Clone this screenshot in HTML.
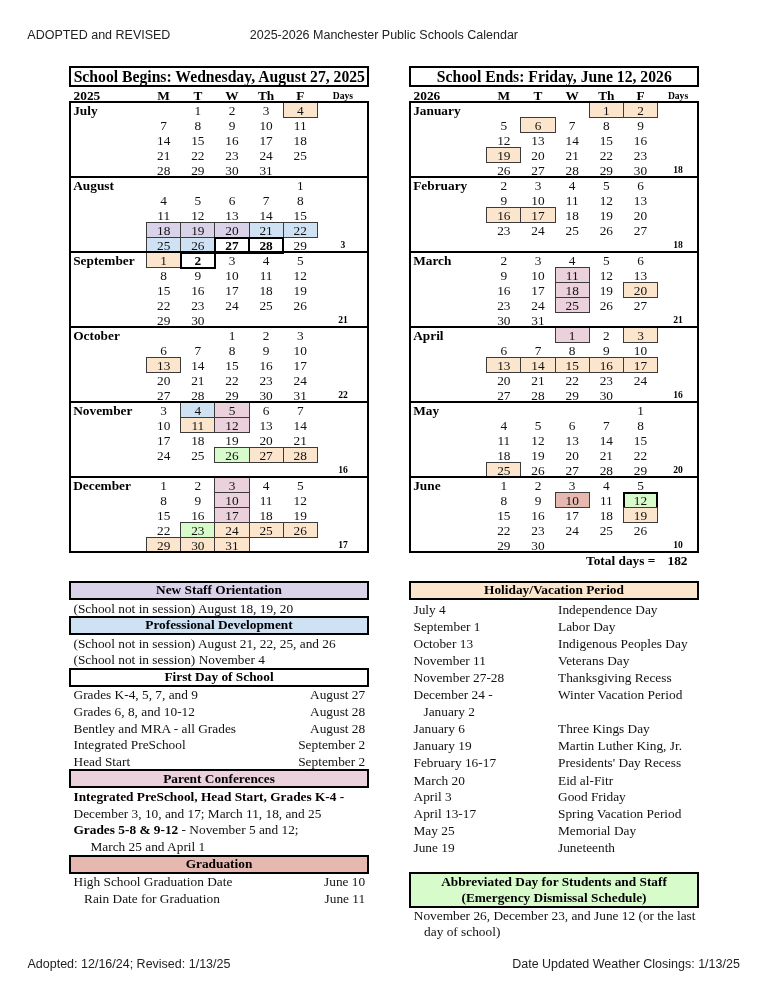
<!DOCTYPE html>
<html><head><meta charset="utf-8"><title>2025-2026 Manchester Public Schools Calendar</title>
<style>
html,body{margin:0;padding:0;background:#fff;}
body{width:768px;height:994px;position:relative;overflow:hidden;filter:blur(0.35px);}
.t{position:absolute;white-space:nowrap;line-height:0;height:0;font-family:'Liberation Serif','Times New Roman',serif;}
.s{font-family:'Liberation Sans',Arial,sans-serif;}
.r{position:absolute;box-sizing:border-box;}
</style></head><body>
<div class="t s" style="left:27.30px;top:35.17px;font-size:12.5px;color:#222;">ADOPTED and REVISED</div>
<div class="t s" style="left:249.80px;top:35.17px;font-size:12.5px;color:#222;">2025-2026 Manchester Public Schools Calendar</div>
<div class="t s" style="left:27.50px;top:963.77px;font-size:12.5px;color:#222;">Adopted: 12/16/24; Revised: 1/13/25</div>
<div class="t s" style="left:512.20px;top:963.77px;font-size:12.5px;color:#222;">Date Updated Weather Closings: 1/13/25</div>
<div class="r" style="left:69.00px;top:66.00px;width:300.00px;height:21.00px;outline:2px solid #000;outline-offset:-2px;"></div>
<div class="t" style="left:69.30px;width:300px;text-align:center;top:76.80px;font-size:15.7px;font-weight:700;color:#000;">School Begins: Wednesday, August 27, 2025</div>
<div class="t" style="left:73.60px;top:96.00px;font-size:13.33px;font-weight:700;color:#000;">2025</div>
<div class="t" style="left:146.60px;width:34.15px;text-align:center;top:96.00px;font-size:13.33px;font-weight:700;color:#000;">M</div>
<div class="t" style="left:180.75px;width:34.15px;text-align:center;top:96.00px;font-size:13.33px;font-weight:700;color:#000;">T</div>
<div class="t" style="left:214.90px;width:34.15px;text-align:center;top:96.00px;font-size:13.33px;font-weight:700;color:#000;">W</div>
<div class="t" style="left:249.05px;width:34.15px;text-align:center;top:96.00px;font-size:13.33px;font-weight:700;color:#000;">Th</div>
<div class="t" style="left:283.20px;width:34.15px;text-align:center;top:96.00px;font-size:13.33px;font-weight:700;color:#000;">F</div>
<div class="t" style="left:322.93px;width:40px;text-align:center;top:95.56px;font-size:9.6px;font-weight:700;color:#000;">Days</div>
<div class="t" style="left:73.20px;top:110.90px;font-size:13.33px;font-weight:700;color:#000;">July</div>
<div class="t" style="left:180.75px;width:34.15px;text-align:center;top:111.30px;font-size:13.33px;color:#111;">1</div>
<div class="t" style="left:214.90px;width:34.15px;text-align:center;top:111.30px;font-size:13.33px;color:#111;">2</div>
<div class="t" style="left:249.05px;width:34.15px;text-align:center;top:111.30px;font-size:13.33px;color:#111;">3</div>
<div class="r" style="left:282.70px;top:102.00px;width:35.15px;height:16.00px;background:#FCE5CD;outline:1px solid #3a3a3a;outline-offset:-1px;"></div>
<div class="t" style="left:283.20px;width:34.15px;text-align:center;top:111.30px;font-size:13.33px;color:#111;">4</div>
<div class="t" style="left:146.60px;width:34.15px;text-align:center;top:126.30px;font-size:13.33px;color:#111;">7</div>
<div class="t" style="left:180.75px;width:34.15px;text-align:center;top:126.30px;font-size:13.33px;color:#111;">8</div>
<div class="t" style="left:214.90px;width:34.15px;text-align:center;top:126.30px;font-size:13.33px;color:#111;">9</div>
<div class="t" style="left:249.05px;width:34.15px;text-align:center;top:126.30px;font-size:13.33px;color:#111;">10</div>
<div class="t" style="left:283.20px;width:34.15px;text-align:center;top:126.30px;font-size:13.33px;color:#111;">11</div>
<div class="t" style="left:146.60px;width:34.15px;text-align:center;top:141.30px;font-size:13.33px;color:#111;">14</div>
<div class="t" style="left:180.75px;width:34.15px;text-align:center;top:141.30px;font-size:13.33px;color:#111;">15</div>
<div class="t" style="left:214.90px;width:34.15px;text-align:center;top:141.30px;font-size:13.33px;color:#111;">16</div>
<div class="t" style="left:249.05px;width:34.15px;text-align:center;top:141.30px;font-size:13.33px;color:#111;">17</div>
<div class="t" style="left:283.20px;width:34.15px;text-align:center;top:141.30px;font-size:13.33px;color:#111;">18</div>
<div class="t" style="left:146.60px;width:34.15px;text-align:center;top:156.30px;font-size:13.33px;color:#111;">21</div>
<div class="t" style="left:180.75px;width:34.15px;text-align:center;top:156.30px;font-size:13.33px;color:#111;">22</div>
<div class="t" style="left:214.90px;width:34.15px;text-align:center;top:156.30px;font-size:13.33px;color:#111;">23</div>
<div class="t" style="left:249.05px;width:34.15px;text-align:center;top:156.30px;font-size:13.33px;color:#111;">24</div>
<div class="t" style="left:283.20px;width:34.15px;text-align:center;top:156.30px;font-size:13.33px;color:#111;">25</div>
<div class="t" style="left:146.60px;width:34.15px;text-align:center;top:171.30px;font-size:13.33px;color:#111;">28</div>
<div class="t" style="left:180.75px;width:34.15px;text-align:center;top:171.30px;font-size:13.33px;color:#111;">29</div>
<div class="t" style="left:214.90px;width:34.15px;text-align:center;top:171.30px;font-size:13.33px;color:#111;">30</div>
<div class="t" style="left:249.05px;width:34.15px;text-align:center;top:171.30px;font-size:13.33px;color:#111;">31</div>
<div class="t" style="left:73.20px;top:185.90px;font-size:13.33px;font-weight:700;color:#000;">August</div>
<div class="t" style="left:283.20px;width:34.15px;text-align:center;top:186.30px;font-size:13.33px;color:#111;">1</div>
<div class="t" style="left:146.60px;width:34.15px;text-align:center;top:201.30px;font-size:13.33px;color:#111;">4</div>
<div class="t" style="left:180.75px;width:34.15px;text-align:center;top:201.30px;font-size:13.33px;color:#111;">5</div>
<div class="t" style="left:214.90px;width:34.15px;text-align:center;top:201.30px;font-size:13.33px;color:#111;">6</div>
<div class="t" style="left:249.05px;width:34.15px;text-align:center;top:201.30px;font-size:13.33px;color:#111;">7</div>
<div class="t" style="left:283.20px;width:34.15px;text-align:center;top:201.30px;font-size:13.33px;color:#111;">8</div>
<div class="t" style="left:146.60px;width:34.15px;text-align:center;top:216.30px;font-size:13.33px;color:#111;">11</div>
<div class="t" style="left:180.75px;width:34.15px;text-align:center;top:216.30px;font-size:13.33px;color:#111;">12</div>
<div class="t" style="left:214.90px;width:34.15px;text-align:center;top:216.30px;font-size:13.33px;color:#111;">13</div>
<div class="t" style="left:249.05px;width:34.15px;text-align:center;top:216.30px;font-size:13.33px;color:#111;">14</div>
<div class="t" style="left:283.20px;width:34.15px;text-align:center;top:216.30px;font-size:13.33px;color:#111;">15</div>
<div class="r" style="left:146.10px;top:222.00px;width:35.15px;height:16.00px;background:#D9D2E9;outline:1px solid #3a3a3a;outline-offset:-1px;"></div>
<div class="t" style="left:146.60px;width:34.15px;text-align:center;top:231.30px;font-size:13.33px;color:#111;">18</div>
<div class="r" style="left:180.25px;top:222.00px;width:35.15px;height:16.00px;background:#D9D2E9;outline:1px solid #3a3a3a;outline-offset:-1px;"></div>
<div class="t" style="left:180.75px;width:34.15px;text-align:center;top:231.30px;font-size:13.33px;color:#111;">19</div>
<div class="r" style="left:214.40px;top:222.00px;width:35.15px;height:16.00px;background:#D9D2E9;outline:1px solid #3a3a3a;outline-offset:-1px;"></div>
<div class="t" style="left:214.90px;width:34.15px;text-align:center;top:231.30px;font-size:13.33px;color:#111;">20</div>
<div class="r" style="left:248.55px;top:222.00px;width:35.15px;height:16.00px;background:#CFE2F3;outline:1px solid #3a3a3a;outline-offset:-1px;"></div>
<div class="t" style="left:249.05px;width:34.15px;text-align:center;top:231.30px;font-size:13.33px;color:#111;">21</div>
<div class="r" style="left:282.70px;top:222.00px;width:35.15px;height:16.00px;background:#CFE2F3;outline:1px solid #3a3a3a;outline-offset:-1px;"></div>
<div class="t" style="left:283.20px;width:34.15px;text-align:center;top:231.30px;font-size:13.33px;color:#111;">22</div>
<div class="r" style="left:146.10px;top:237.00px;width:35.15px;height:16.00px;background:#CFE2F3;outline:1px solid #3a3a3a;outline-offset:-1px;"></div>
<div class="t" style="left:146.60px;width:34.15px;text-align:center;top:246.30px;font-size:13.33px;color:#111;">25</div>
<div class="r" style="left:180.25px;top:237.00px;width:35.15px;height:16.00px;background:#CFE2F3;outline:1px solid #3a3a3a;outline-offset:-1px;"></div>
<div class="t" style="left:180.75px;width:34.15px;text-align:center;top:246.30px;font-size:13.33px;color:#111;">26</div>
<div class="r" style="left:214.00px;top:236.50px;width:35.95px;height:17.00px;outline:2px solid #000;outline-offset:-2px;"></div>
<div class="t" style="left:214.90px;width:34.15px;text-align:center;top:246.30px;font-size:13.33px;font-weight:700;color:#000;">27</div>
<div class="r" style="left:248.15px;top:236.50px;width:35.95px;height:17.00px;outline:2px solid #000;outline-offset:-2px;"></div>
<div class="t" style="left:249.05px;width:34.15px;text-align:center;top:246.30px;font-size:13.33px;font-weight:700;color:#000;">28</div>
<div class="t" style="left:283.20px;width:34.15px;text-align:center;top:246.30px;font-size:13.33px;color:#111;">29</div>
<div class="t" style="left:322.93px;width:40px;text-align:center;top:245.26px;font-size:9.6px;font-weight:700;color:#000;">3</div>
<div class="t" style="left:73.20px;top:260.90px;font-size:13.33px;font-weight:700;color:#000;">September</div>
<div class="r" style="left:146.10px;top:252.00px;width:35.15px;height:16.00px;background:#FCE5CD;outline:1px solid #3a3a3a;outline-offset:-1px;"></div>
<div class="t" style="left:146.60px;width:34.15px;text-align:center;top:261.30px;font-size:13.33px;color:#111;">1</div>
<div class="r" style="left:179.85px;top:251.50px;width:35.95px;height:17.00px;outline:2px solid #000;outline-offset:-2px;"></div>
<div class="t" style="left:180.75px;width:34.15px;text-align:center;top:261.30px;font-size:13.33px;font-weight:700;color:#000;">2</div>
<div class="t" style="left:214.90px;width:34.15px;text-align:center;top:261.30px;font-size:13.33px;color:#111;">3</div>
<div class="t" style="left:249.05px;width:34.15px;text-align:center;top:261.30px;font-size:13.33px;color:#111;">4</div>
<div class="t" style="left:283.20px;width:34.15px;text-align:center;top:261.30px;font-size:13.33px;color:#111;">5</div>
<div class="t" style="left:146.60px;width:34.15px;text-align:center;top:276.30px;font-size:13.33px;color:#111;">8</div>
<div class="t" style="left:180.75px;width:34.15px;text-align:center;top:276.30px;font-size:13.33px;color:#111;">9</div>
<div class="t" style="left:214.90px;width:34.15px;text-align:center;top:276.30px;font-size:13.33px;color:#111;">10</div>
<div class="t" style="left:249.05px;width:34.15px;text-align:center;top:276.30px;font-size:13.33px;color:#111;">11</div>
<div class="t" style="left:283.20px;width:34.15px;text-align:center;top:276.30px;font-size:13.33px;color:#111;">12</div>
<div class="t" style="left:146.60px;width:34.15px;text-align:center;top:291.30px;font-size:13.33px;color:#111;">15</div>
<div class="t" style="left:180.75px;width:34.15px;text-align:center;top:291.30px;font-size:13.33px;color:#111;">16</div>
<div class="t" style="left:214.90px;width:34.15px;text-align:center;top:291.30px;font-size:13.33px;color:#111;">17</div>
<div class="t" style="left:249.05px;width:34.15px;text-align:center;top:291.30px;font-size:13.33px;color:#111;">18</div>
<div class="t" style="left:283.20px;width:34.15px;text-align:center;top:291.30px;font-size:13.33px;color:#111;">19</div>
<div class="t" style="left:146.60px;width:34.15px;text-align:center;top:306.30px;font-size:13.33px;color:#111;">22</div>
<div class="t" style="left:180.75px;width:34.15px;text-align:center;top:306.30px;font-size:13.33px;color:#111;">23</div>
<div class="t" style="left:214.90px;width:34.15px;text-align:center;top:306.30px;font-size:13.33px;color:#111;">24</div>
<div class="t" style="left:249.05px;width:34.15px;text-align:center;top:306.30px;font-size:13.33px;color:#111;">25</div>
<div class="t" style="left:283.20px;width:34.15px;text-align:center;top:306.30px;font-size:13.33px;color:#111;">26</div>
<div class="t" style="left:146.60px;width:34.15px;text-align:center;top:321.30px;font-size:13.33px;color:#111;">29</div>
<div class="t" style="left:180.75px;width:34.15px;text-align:center;top:321.30px;font-size:13.33px;color:#111;">30</div>
<div class="t" style="left:322.93px;width:40px;text-align:center;top:320.26px;font-size:9.6px;font-weight:700;color:#000;">21</div>
<div class="t" style="left:73.20px;top:335.90px;font-size:13.33px;font-weight:700;color:#000;">October</div>
<div class="t" style="left:214.90px;width:34.15px;text-align:center;top:336.30px;font-size:13.33px;color:#111;">1</div>
<div class="t" style="left:249.05px;width:34.15px;text-align:center;top:336.30px;font-size:13.33px;color:#111;">2</div>
<div class="t" style="left:283.20px;width:34.15px;text-align:center;top:336.30px;font-size:13.33px;color:#111;">3</div>
<div class="t" style="left:146.60px;width:34.15px;text-align:center;top:351.30px;font-size:13.33px;color:#111;">6</div>
<div class="t" style="left:180.75px;width:34.15px;text-align:center;top:351.30px;font-size:13.33px;color:#111;">7</div>
<div class="t" style="left:214.90px;width:34.15px;text-align:center;top:351.30px;font-size:13.33px;color:#111;">8</div>
<div class="t" style="left:249.05px;width:34.15px;text-align:center;top:351.30px;font-size:13.33px;color:#111;">9</div>
<div class="t" style="left:283.20px;width:34.15px;text-align:center;top:351.30px;font-size:13.33px;color:#111;">10</div>
<div class="r" style="left:146.10px;top:357.00px;width:35.15px;height:16.00px;background:#FCE5CD;outline:1px solid #3a3a3a;outline-offset:-1px;"></div>
<div class="t" style="left:146.60px;width:34.15px;text-align:center;top:366.30px;font-size:13.33px;color:#111;">13</div>
<div class="t" style="left:180.75px;width:34.15px;text-align:center;top:366.30px;font-size:13.33px;color:#111;">14</div>
<div class="t" style="left:214.90px;width:34.15px;text-align:center;top:366.30px;font-size:13.33px;color:#111;">15</div>
<div class="t" style="left:249.05px;width:34.15px;text-align:center;top:366.30px;font-size:13.33px;color:#111;">16</div>
<div class="t" style="left:283.20px;width:34.15px;text-align:center;top:366.30px;font-size:13.33px;color:#111;">17</div>
<div class="t" style="left:146.60px;width:34.15px;text-align:center;top:381.30px;font-size:13.33px;color:#111;">20</div>
<div class="t" style="left:180.75px;width:34.15px;text-align:center;top:381.30px;font-size:13.33px;color:#111;">21</div>
<div class="t" style="left:214.90px;width:34.15px;text-align:center;top:381.30px;font-size:13.33px;color:#111;">22</div>
<div class="t" style="left:249.05px;width:34.15px;text-align:center;top:381.30px;font-size:13.33px;color:#111;">23</div>
<div class="t" style="left:283.20px;width:34.15px;text-align:center;top:381.30px;font-size:13.33px;color:#111;">24</div>
<div class="t" style="left:146.60px;width:34.15px;text-align:center;top:396.30px;font-size:13.33px;color:#111;">27</div>
<div class="t" style="left:180.75px;width:34.15px;text-align:center;top:396.30px;font-size:13.33px;color:#111;">28</div>
<div class="t" style="left:214.90px;width:34.15px;text-align:center;top:396.30px;font-size:13.33px;color:#111;">29</div>
<div class="t" style="left:249.05px;width:34.15px;text-align:center;top:396.30px;font-size:13.33px;color:#111;">30</div>
<div class="t" style="left:283.20px;width:34.15px;text-align:center;top:396.30px;font-size:13.33px;color:#111;">31</div>
<div class="t" style="left:322.93px;width:40px;text-align:center;top:395.26px;font-size:9.6px;font-weight:700;color:#000;">22</div>
<div class="t" style="left:73.20px;top:410.90px;font-size:13.33px;font-weight:700;color:#000;">November</div>
<div class="t" style="left:146.60px;width:34.15px;text-align:center;top:411.30px;font-size:13.33px;color:#111;">3</div>
<div class="r" style="left:180.25px;top:402.00px;width:35.15px;height:16.00px;background:#CFE2F3;outline:1px solid #3a3a3a;outline-offset:-1px;"></div>
<div class="t" style="left:180.75px;width:34.15px;text-align:center;top:411.30px;font-size:13.33px;color:#111;">4</div>
<div class="r" style="left:214.40px;top:402.00px;width:35.15px;height:16.00px;background:#EAD1DC;outline:1px solid #3a3a3a;outline-offset:-1px;"></div>
<div class="t" style="left:214.90px;width:34.15px;text-align:center;top:411.30px;font-size:13.33px;color:#111;">5</div>
<div class="t" style="left:249.05px;width:34.15px;text-align:center;top:411.30px;font-size:13.33px;color:#111;">6</div>
<div class="t" style="left:283.20px;width:34.15px;text-align:center;top:411.30px;font-size:13.33px;color:#111;">7</div>
<div class="t" style="left:146.60px;width:34.15px;text-align:center;top:426.30px;font-size:13.33px;color:#111;">10</div>
<div class="r" style="left:180.25px;top:417.00px;width:35.15px;height:16.00px;background:#FCE5CD;outline:1px solid #3a3a3a;outline-offset:-1px;"></div>
<div class="t" style="left:180.75px;width:34.15px;text-align:center;top:426.30px;font-size:13.33px;color:#111;">11</div>
<div class="r" style="left:214.40px;top:417.00px;width:35.15px;height:16.00px;background:#EAD1DC;outline:1px solid #3a3a3a;outline-offset:-1px;"></div>
<div class="t" style="left:214.90px;width:34.15px;text-align:center;top:426.30px;font-size:13.33px;color:#111;">12</div>
<div class="t" style="left:249.05px;width:34.15px;text-align:center;top:426.30px;font-size:13.33px;color:#111;">13</div>
<div class="t" style="left:283.20px;width:34.15px;text-align:center;top:426.30px;font-size:13.33px;color:#111;">14</div>
<div class="t" style="left:146.60px;width:34.15px;text-align:center;top:441.30px;font-size:13.33px;color:#111;">17</div>
<div class="t" style="left:180.75px;width:34.15px;text-align:center;top:441.30px;font-size:13.33px;color:#111;">18</div>
<div class="t" style="left:214.90px;width:34.15px;text-align:center;top:441.30px;font-size:13.33px;color:#111;">19</div>
<div class="t" style="left:249.05px;width:34.15px;text-align:center;top:441.30px;font-size:13.33px;color:#111;">20</div>
<div class="t" style="left:283.20px;width:34.15px;text-align:center;top:441.30px;font-size:13.33px;color:#111;">21</div>
<div class="t" style="left:146.60px;width:34.15px;text-align:center;top:456.30px;font-size:13.33px;color:#111;">24</div>
<div class="t" style="left:180.75px;width:34.15px;text-align:center;top:456.30px;font-size:13.33px;color:#111;">25</div>
<div class="r" style="left:214.40px;top:447.00px;width:35.15px;height:16.00px;background:#D8FBCC;outline:1px solid #3a3a3a;outline-offset:-1px;"></div>
<div class="t" style="left:214.90px;width:34.15px;text-align:center;top:456.30px;font-size:13.33px;color:#111;">26</div>
<div class="r" style="left:248.55px;top:447.00px;width:35.15px;height:16.00px;background:#FCE5CD;outline:1px solid #3a3a3a;outline-offset:-1px;"></div>
<div class="t" style="left:249.05px;width:34.15px;text-align:center;top:456.30px;font-size:13.33px;color:#111;">27</div>
<div class="r" style="left:282.70px;top:447.00px;width:35.15px;height:16.00px;background:#FCE5CD;outline:1px solid #3a3a3a;outline-offset:-1px;"></div>
<div class="t" style="left:283.20px;width:34.15px;text-align:center;top:456.30px;font-size:13.33px;color:#111;">28</div>
<div class="t" style="left:322.93px;width:40px;text-align:center;top:470.26px;font-size:9.6px;font-weight:700;color:#000;">16</div>
<div class="t" style="left:73.20px;top:485.90px;font-size:13.33px;font-weight:700;color:#000;">December</div>
<div class="t" style="left:146.60px;width:34.15px;text-align:center;top:486.30px;font-size:13.33px;color:#111;">1</div>
<div class="t" style="left:180.75px;width:34.15px;text-align:center;top:486.30px;font-size:13.33px;color:#111;">2</div>
<div class="r" style="left:214.40px;top:477.00px;width:35.15px;height:16.00px;background:#EAD1DC;outline:1px solid #3a3a3a;outline-offset:-1px;"></div>
<div class="t" style="left:214.90px;width:34.15px;text-align:center;top:486.30px;font-size:13.33px;color:#111;">3</div>
<div class="t" style="left:249.05px;width:34.15px;text-align:center;top:486.30px;font-size:13.33px;color:#111;">4</div>
<div class="t" style="left:283.20px;width:34.15px;text-align:center;top:486.30px;font-size:13.33px;color:#111;">5</div>
<div class="t" style="left:146.60px;width:34.15px;text-align:center;top:501.30px;font-size:13.33px;color:#111;">8</div>
<div class="t" style="left:180.75px;width:34.15px;text-align:center;top:501.30px;font-size:13.33px;color:#111;">9</div>
<div class="r" style="left:214.40px;top:492.00px;width:35.15px;height:16.00px;background:#EAD1DC;outline:1px solid #3a3a3a;outline-offset:-1px;"></div>
<div class="t" style="left:214.90px;width:34.15px;text-align:center;top:501.30px;font-size:13.33px;color:#111;">10</div>
<div class="t" style="left:249.05px;width:34.15px;text-align:center;top:501.30px;font-size:13.33px;color:#111;">11</div>
<div class="t" style="left:283.20px;width:34.15px;text-align:center;top:501.30px;font-size:13.33px;color:#111;">12</div>
<div class="t" style="left:146.60px;width:34.15px;text-align:center;top:516.30px;font-size:13.33px;color:#111;">15</div>
<div class="t" style="left:180.75px;width:34.15px;text-align:center;top:516.30px;font-size:13.33px;color:#111;">16</div>
<div class="r" style="left:214.40px;top:507.00px;width:35.15px;height:16.00px;background:#EAD1DC;outline:1px solid #3a3a3a;outline-offset:-1px;"></div>
<div class="t" style="left:214.90px;width:34.15px;text-align:center;top:516.30px;font-size:13.33px;color:#111;">17</div>
<div class="t" style="left:249.05px;width:34.15px;text-align:center;top:516.30px;font-size:13.33px;color:#111;">18</div>
<div class="t" style="left:283.20px;width:34.15px;text-align:center;top:516.30px;font-size:13.33px;color:#111;">19</div>
<div class="t" style="left:146.60px;width:34.15px;text-align:center;top:531.30px;font-size:13.33px;color:#111;">22</div>
<div class="r" style="left:180.25px;top:522.00px;width:35.15px;height:16.00px;background:#D8FBCC;outline:1px solid #3a3a3a;outline-offset:-1px;"></div>
<div class="t" style="left:180.75px;width:34.15px;text-align:center;top:531.30px;font-size:13.33px;color:#111;">23</div>
<div class="r" style="left:214.40px;top:522.00px;width:35.15px;height:16.00px;background:#FCE5CD;outline:1px solid #3a3a3a;outline-offset:-1px;"></div>
<div class="t" style="left:214.90px;width:34.15px;text-align:center;top:531.30px;font-size:13.33px;color:#111;">24</div>
<div class="r" style="left:248.55px;top:522.00px;width:35.15px;height:16.00px;background:#FCE5CD;outline:1px solid #3a3a3a;outline-offset:-1px;"></div>
<div class="t" style="left:249.05px;width:34.15px;text-align:center;top:531.30px;font-size:13.33px;color:#111;">25</div>
<div class="r" style="left:282.70px;top:522.00px;width:35.15px;height:16.00px;background:#FCE5CD;outline:1px solid #3a3a3a;outline-offset:-1px;"></div>
<div class="t" style="left:283.20px;width:34.15px;text-align:center;top:531.30px;font-size:13.33px;color:#111;">26</div>
<div class="r" style="left:146.10px;top:537.00px;width:35.15px;height:16.00px;background:#FCE5CD;outline:1px solid #3a3a3a;outline-offset:-1px;"></div>
<div class="t" style="left:146.60px;width:34.15px;text-align:center;top:546.30px;font-size:13.33px;color:#111;">29</div>
<div class="r" style="left:180.25px;top:537.00px;width:35.15px;height:16.00px;background:#FCE5CD;outline:1px solid #3a3a3a;outline-offset:-1px;"></div>
<div class="t" style="left:180.75px;width:34.15px;text-align:center;top:546.30px;font-size:13.33px;color:#111;">30</div>
<div class="r" style="left:214.40px;top:537.00px;width:35.15px;height:16.00px;background:#FCE5CD;outline:1px solid #3a3a3a;outline-offset:-1px;"></div>
<div class="t" style="left:214.90px;width:34.15px;text-align:center;top:546.30px;font-size:13.33px;color:#111;">31</div>
<div class="t" style="left:322.93px;width:40px;text-align:center;top:545.26px;font-size:9.6px;font-weight:700;color:#000;">17</div>
<div class="r" style="left:69.00px;top:101.00px;width:300.00px;height:2.00px;background:#000"></div>
<div class="r" style="left:69.00px;top:176.00px;width:300.00px;height:2.00px;background:#000"></div>
<div class="r" style="left:69.00px;top:251.00px;width:300.00px;height:2.00px;background:#000"></div>
<div class="r" style="left:69.00px;top:326.00px;width:300.00px;height:2.00px;background:#000"></div>
<div class="r" style="left:69.00px;top:401.00px;width:300.00px;height:2.00px;background:#000"></div>
<div class="r" style="left:69.00px;top:476.00px;width:300.00px;height:2.00px;background:#000"></div>
<div class="r" style="left:69.00px;top:551.00px;width:300.00px;height:2.00px;background:#000"></div>
<div class="r" style="left:69.00px;top:101.00px;width:2.00px;height:452.00px;background:#000"></div>
<div class="r" style="left:367.00px;top:101.00px;width:2.00px;height:452.00px;background:#000"></div>
<div class="r" style="left:409.00px;top:66.00px;width:290.00px;height:21.00px;outline:2px solid #000;outline-offset:-2px;"></div>
<div class="t" style="left:409.30px;width:290px;text-align:center;top:76.80px;font-size:15.7px;font-weight:700;color:#000;">School Ends: Friday, June 12, 2026</div>
<div class="t" style="left:413.60px;top:96.00px;font-size:13.33px;font-weight:700;color:#000;">2026</div>
<div class="t" style="left:486.80px;width:34.15px;text-align:center;top:96.00px;font-size:13.33px;font-weight:700;color:#000;">M</div>
<div class="t" style="left:520.95px;width:34.15px;text-align:center;top:96.00px;font-size:13.33px;font-weight:700;color:#000;">T</div>
<div class="t" style="left:555.10px;width:34.15px;text-align:center;top:96.00px;font-size:13.33px;font-weight:700;color:#000;">W</div>
<div class="t" style="left:589.25px;width:34.15px;text-align:center;top:96.00px;font-size:13.33px;font-weight:700;color:#000;">Th</div>
<div class="t" style="left:623.40px;width:34.15px;text-align:center;top:96.00px;font-size:13.33px;font-weight:700;color:#000;">F</div>
<div class="t" style="left:658.02px;width:40px;text-align:center;top:95.56px;font-size:9.6px;font-weight:700;color:#000;">Days</div>
<div class="t" style="left:413.20px;top:110.90px;font-size:13.33px;font-weight:700;color:#000;">January</div>
<div class="r" style="left:588.75px;top:102.00px;width:35.15px;height:16.00px;background:#FCE5CD;outline:1px solid #3a3a3a;outline-offset:-1px;"></div>
<div class="t" style="left:589.25px;width:34.15px;text-align:center;top:111.30px;font-size:13.33px;color:#111;">1</div>
<div class="r" style="left:622.90px;top:102.00px;width:35.15px;height:16.00px;background:#FCE5CD;outline:1px solid #3a3a3a;outline-offset:-1px;"></div>
<div class="t" style="left:623.40px;width:34.15px;text-align:center;top:111.30px;font-size:13.33px;color:#111;">2</div>
<div class="t" style="left:486.80px;width:34.15px;text-align:center;top:126.30px;font-size:13.33px;color:#111;">5</div>
<div class="r" style="left:520.45px;top:117.00px;width:35.15px;height:16.00px;background:#FCE5CD;outline:1px solid #3a3a3a;outline-offset:-1px;"></div>
<div class="t" style="left:520.95px;width:34.15px;text-align:center;top:126.30px;font-size:13.33px;color:#111;">6</div>
<div class="t" style="left:555.10px;width:34.15px;text-align:center;top:126.30px;font-size:13.33px;color:#111;">7</div>
<div class="t" style="left:589.25px;width:34.15px;text-align:center;top:126.30px;font-size:13.33px;color:#111;">8</div>
<div class="t" style="left:623.40px;width:34.15px;text-align:center;top:126.30px;font-size:13.33px;color:#111;">9</div>
<div class="t" style="left:486.80px;width:34.15px;text-align:center;top:141.30px;font-size:13.33px;color:#111;">12</div>
<div class="t" style="left:520.95px;width:34.15px;text-align:center;top:141.30px;font-size:13.33px;color:#111;">13</div>
<div class="t" style="left:555.10px;width:34.15px;text-align:center;top:141.30px;font-size:13.33px;color:#111;">14</div>
<div class="t" style="left:589.25px;width:34.15px;text-align:center;top:141.30px;font-size:13.33px;color:#111;">15</div>
<div class="t" style="left:623.40px;width:34.15px;text-align:center;top:141.30px;font-size:13.33px;color:#111;">16</div>
<div class="r" style="left:486.30px;top:147.00px;width:35.15px;height:16.00px;background:#FCE5CD;outline:1px solid #3a3a3a;outline-offset:-1px;"></div>
<div class="t" style="left:486.80px;width:34.15px;text-align:center;top:156.30px;font-size:13.33px;color:#111;">19</div>
<div class="t" style="left:520.95px;width:34.15px;text-align:center;top:156.30px;font-size:13.33px;color:#111;">20</div>
<div class="t" style="left:555.10px;width:34.15px;text-align:center;top:156.30px;font-size:13.33px;color:#111;">21</div>
<div class="t" style="left:589.25px;width:34.15px;text-align:center;top:156.30px;font-size:13.33px;color:#111;">22</div>
<div class="t" style="left:623.40px;width:34.15px;text-align:center;top:156.30px;font-size:13.33px;color:#111;">23</div>
<div class="t" style="left:486.80px;width:34.15px;text-align:center;top:171.30px;font-size:13.33px;color:#111;">26</div>
<div class="t" style="left:520.95px;width:34.15px;text-align:center;top:171.30px;font-size:13.33px;color:#111;">27</div>
<div class="t" style="left:555.10px;width:34.15px;text-align:center;top:171.30px;font-size:13.33px;color:#111;">28</div>
<div class="t" style="left:589.25px;width:34.15px;text-align:center;top:171.30px;font-size:13.33px;color:#111;">29</div>
<div class="t" style="left:623.40px;width:34.15px;text-align:center;top:171.30px;font-size:13.33px;color:#111;">30</div>
<div class="t" style="left:658.02px;width:40px;text-align:center;top:170.26px;font-size:9.6px;font-weight:700;color:#000;">18</div>
<div class="t" style="left:413.20px;top:185.90px;font-size:13.33px;font-weight:700;color:#000;">February</div>
<div class="t" style="left:486.80px;width:34.15px;text-align:center;top:186.30px;font-size:13.33px;color:#111;">2</div>
<div class="t" style="left:520.95px;width:34.15px;text-align:center;top:186.30px;font-size:13.33px;color:#111;">3</div>
<div class="t" style="left:555.10px;width:34.15px;text-align:center;top:186.30px;font-size:13.33px;color:#111;">4</div>
<div class="t" style="left:589.25px;width:34.15px;text-align:center;top:186.30px;font-size:13.33px;color:#111;">5</div>
<div class="t" style="left:623.40px;width:34.15px;text-align:center;top:186.30px;font-size:13.33px;color:#111;">6</div>
<div class="t" style="left:486.80px;width:34.15px;text-align:center;top:201.30px;font-size:13.33px;color:#111;">9</div>
<div class="t" style="left:520.95px;width:34.15px;text-align:center;top:201.30px;font-size:13.33px;color:#111;">10</div>
<div class="t" style="left:555.10px;width:34.15px;text-align:center;top:201.30px;font-size:13.33px;color:#111;">11</div>
<div class="t" style="left:589.25px;width:34.15px;text-align:center;top:201.30px;font-size:13.33px;color:#111;">12</div>
<div class="t" style="left:623.40px;width:34.15px;text-align:center;top:201.30px;font-size:13.33px;color:#111;">13</div>
<div class="r" style="left:486.30px;top:207.00px;width:35.15px;height:16.00px;background:#FCE5CD;outline:1px solid #3a3a3a;outline-offset:-1px;"></div>
<div class="t" style="left:486.80px;width:34.15px;text-align:center;top:216.30px;font-size:13.33px;color:#111;">16</div>
<div class="r" style="left:520.45px;top:207.00px;width:35.15px;height:16.00px;background:#FCE5CD;outline:1px solid #3a3a3a;outline-offset:-1px;"></div>
<div class="t" style="left:520.95px;width:34.15px;text-align:center;top:216.30px;font-size:13.33px;color:#111;">17</div>
<div class="t" style="left:555.10px;width:34.15px;text-align:center;top:216.30px;font-size:13.33px;color:#111;">18</div>
<div class="t" style="left:589.25px;width:34.15px;text-align:center;top:216.30px;font-size:13.33px;color:#111;">19</div>
<div class="t" style="left:623.40px;width:34.15px;text-align:center;top:216.30px;font-size:13.33px;color:#111;">20</div>
<div class="t" style="left:486.80px;width:34.15px;text-align:center;top:231.30px;font-size:13.33px;color:#111;">23</div>
<div class="t" style="left:520.95px;width:34.15px;text-align:center;top:231.30px;font-size:13.33px;color:#111;">24</div>
<div class="t" style="left:555.10px;width:34.15px;text-align:center;top:231.30px;font-size:13.33px;color:#111;">25</div>
<div class="t" style="left:589.25px;width:34.15px;text-align:center;top:231.30px;font-size:13.33px;color:#111;">26</div>
<div class="t" style="left:623.40px;width:34.15px;text-align:center;top:231.30px;font-size:13.33px;color:#111;">27</div>
<div class="t" style="left:658.02px;width:40px;text-align:center;top:245.26px;font-size:9.6px;font-weight:700;color:#000;">18</div>
<div class="t" style="left:413.20px;top:260.90px;font-size:13.33px;font-weight:700;color:#000;">March</div>
<div class="t" style="left:486.80px;width:34.15px;text-align:center;top:261.30px;font-size:13.33px;color:#111;">2</div>
<div class="t" style="left:520.95px;width:34.15px;text-align:center;top:261.30px;font-size:13.33px;color:#111;">3</div>
<div class="t" style="left:555.10px;width:34.15px;text-align:center;top:261.30px;font-size:13.33px;color:#111;">4</div>
<div class="t" style="left:589.25px;width:34.15px;text-align:center;top:261.30px;font-size:13.33px;color:#111;">5</div>
<div class="t" style="left:623.40px;width:34.15px;text-align:center;top:261.30px;font-size:13.33px;color:#111;">6</div>
<div class="t" style="left:486.80px;width:34.15px;text-align:center;top:276.30px;font-size:13.33px;color:#111;">9</div>
<div class="t" style="left:520.95px;width:34.15px;text-align:center;top:276.30px;font-size:13.33px;color:#111;">10</div>
<div class="r" style="left:554.60px;top:267.00px;width:35.15px;height:16.00px;background:#EAD1DC;outline:1px solid #3a3a3a;outline-offset:-1px;"></div>
<div class="t" style="left:555.10px;width:34.15px;text-align:center;top:276.30px;font-size:13.33px;color:#111;">11</div>
<div class="t" style="left:589.25px;width:34.15px;text-align:center;top:276.30px;font-size:13.33px;color:#111;">12</div>
<div class="t" style="left:623.40px;width:34.15px;text-align:center;top:276.30px;font-size:13.33px;color:#111;">13</div>
<div class="t" style="left:486.80px;width:34.15px;text-align:center;top:291.30px;font-size:13.33px;color:#111;">16</div>
<div class="t" style="left:520.95px;width:34.15px;text-align:center;top:291.30px;font-size:13.33px;color:#111;">17</div>
<div class="r" style="left:554.60px;top:282.00px;width:35.15px;height:16.00px;background:#EAD1DC;outline:1px solid #3a3a3a;outline-offset:-1px;"></div>
<div class="t" style="left:555.10px;width:34.15px;text-align:center;top:291.30px;font-size:13.33px;color:#111;">18</div>
<div class="t" style="left:589.25px;width:34.15px;text-align:center;top:291.30px;font-size:13.33px;color:#111;">19</div>
<div class="r" style="left:622.90px;top:282.00px;width:35.15px;height:16.00px;background:#FCE5CD;outline:1px solid #3a3a3a;outline-offset:-1px;"></div>
<div class="t" style="left:623.40px;width:34.15px;text-align:center;top:291.30px;font-size:13.33px;color:#111;">20</div>
<div class="t" style="left:486.80px;width:34.15px;text-align:center;top:306.30px;font-size:13.33px;color:#111;">23</div>
<div class="t" style="left:520.95px;width:34.15px;text-align:center;top:306.30px;font-size:13.33px;color:#111;">24</div>
<div class="r" style="left:554.60px;top:297.00px;width:35.15px;height:16.00px;background:#EAD1DC;outline:1px solid #3a3a3a;outline-offset:-1px;"></div>
<div class="t" style="left:555.10px;width:34.15px;text-align:center;top:306.30px;font-size:13.33px;color:#111;">25</div>
<div class="t" style="left:589.25px;width:34.15px;text-align:center;top:306.30px;font-size:13.33px;color:#111;">26</div>
<div class="t" style="left:623.40px;width:34.15px;text-align:center;top:306.30px;font-size:13.33px;color:#111;">27</div>
<div class="t" style="left:486.80px;width:34.15px;text-align:center;top:321.30px;font-size:13.33px;color:#111;">30</div>
<div class="t" style="left:520.95px;width:34.15px;text-align:center;top:321.30px;font-size:13.33px;color:#111;">31</div>
<div class="t" style="left:658.02px;width:40px;text-align:center;top:320.26px;font-size:9.6px;font-weight:700;color:#000;">21</div>
<div class="t" style="left:413.20px;top:335.90px;font-size:13.33px;font-weight:700;color:#000;">April</div>
<div class="r" style="left:554.60px;top:327.00px;width:35.15px;height:16.00px;background:#EAD1DC;outline:1px solid #3a3a3a;outline-offset:-1px;"></div>
<div class="t" style="left:555.10px;width:34.15px;text-align:center;top:336.30px;font-size:13.33px;color:#111;">1</div>
<div class="t" style="left:589.25px;width:34.15px;text-align:center;top:336.30px;font-size:13.33px;color:#111;">2</div>
<div class="r" style="left:622.90px;top:327.00px;width:35.15px;height:16.00px;background:#FCE5CD;outline:1px solid #3a3a3a;outline-offset:-1px;"></div>
<div class="t" style="left:623.40px;width:34.15px;text-align:center;top:336.30px;font-size:13.33px;color:#111;">3</div>
<div class="t" style="left:486.80px;width:34.15px;text-align:center;top:351.30px;font-size:13.33px;color:#111;">6</div>
<div class="t" style="left:520.95px;width:34.15px;text-align:center;top:351.30px;font-size:13.33px;color:#111;">7</div>
<div class="t" style="left:555.10px;width:34.15px;text-align:center;top:351.30px;font-size:13.33px;color:#111;">8</div>
<div class="t" style="left:589.25px;width:34.15px;text-align:center;top:351.30px;font-size:13.33px;color:#111;">9</div>
<div class="t" style="left:623.40px;width:34.15px;text-align:center;top:351.30px;font-size:13.33px;color:#111;">10</div>
<div class="r" style="left:486.30px;top:357.00px;width:35.15px;height:16.00px;background:#FCE5CD;outline:1px solid #3a3a3a;outline-offset:-1px;"></div>
<div class="t" style="left:486.80px;width:34.15px;text-align:center;top:366.30px;font-size:13.33px;color:#111;">13</div>
<div class="r" style="left:520.45px;top:357.00px;width:35.15px;height:16.00px;background:#FCE5CD;outline:1px solid #3a3a3a;outline-offset:-1px;"></div>
<div class="t" style="left:520.95px;width:34.15px;text-align:center;top:366.30px;font-size:13.33px;color:#111;">14</div>
<div class="r" style="left:554.60px;top:357.00px;width:35.15px;height:16.00px;background:#FCE5CD;outline:1px solid #3a3a3a;outline-offset:-1px;"></div>
<div class="t" style="left:555.10px;width:34.15px;text-align:center;top:366.30px;font-size:13.33px;color:#111;">15</div>
<div class="r" style="left:588.75px;top:357.00px;width:35.15px;height:16.00px;background:#FCE5CD;outline:1px solid #3a3a3a;outline-offset:-1px;"></div>
<div class="t" style="left:589.25px;width:34.15px;text-align:center;top:366.30px;font-size:13.33px;color:#111;">16</div>
<div class="r" style="left:622.90px;top:357.00px;width:35.15px;height:16.00px;background:#FCE5CD;outline:1px solid #3a3a3a;outline-offset:-1px;"></div>
<div class="t" style="left:623.40px;width:34.15px;text-align:center;top:366.30px;font-size:13.33px;color:#111;">17</div>
<div class="t" style="left:486.80px;width:34.15px;text-align:center;top:381.30px;font-size:13.33px;color:#111;">20</div>
<div class="t" style="left:520.95px;width:34.15px;text-align:center;top:381.30px;font-size:13.33px;color:#111;">21</div>
<div class="t" style="left:555.10px;width:34.15px;text-align:center;top:381.30px;font-size:13.33px;color:#111;">22</div>
<div class="t" style="left:589.25px;width:34.15px;text-align:center;top:381.30px;font-size:13.33px;color:#111;">23</div>
<div class="t" style="left:623.40px;width:34.15px;text-align:center;top:381.30px;font-size:13.33px;color:#111;">24</div>
<div class="t" style="left:486.80px;width:34.15px;text-align:center;top:396.30px;font-size:13.33px;color:#111;">27</div>
<div class="t" style="left:520.95px;width:34.15px;text-align:center;top:396.30px;font-size:13.33px;color:#111;">28</div>
<div class="t" style="left:555.10px;width:34.15px;text-align:center;top:396.30px;font-size:13.33px;color:#111;">29</div>
<div class="t" style="left:589.25px;width:34.15px;text-align:center;top:396.30px;font-size:13.33px;color:#111;">30</div>
<div class="t" style="left:658.02px;width:40px;text-align:center;top:395.26px;font-size:9.6px;font-weight:700;color:#000;">16</div>
<div class="t" style="left:413.20px;top:410.90px;font-size:13.33px;font-weight:700;color:#000;">May</div>
<div class="t" style="left:623.40px;width:34.15px;text-align:center;top:411.30px;font-size:13.33px;color:#111;">1</div>
<div class="t" style="left:486.80px;width:34.15px;text-align:center;top:426.30px;font-size:13.33px;color:#111;">4</div>
<div class="t" style="left:520.95px;width:34.15px;text-align:center;top:426.30px;font-size:13.33px;color:#111;">5</div>
<div class="t" style="left:555.10px;width:34.15px;text-align:center;top:426.30px;font-size:13.33px;color:#111;">6</div>
<div class="t" style="left:589.25px;width:34.15px;text-align:center;top:426.30px;font-size:13.33px;color:#111;">7</div>
<div class="t" style="left:623.40px;width:34.15px;text-align:center;top:426.30px;font-size:13.33px;color:#111;">8</div>
<div class="t" style="left:486.80px;width:34.15px;text-align:center;top:441.30px;font-size:13.33px;color:#111;">11</div>
<div class="t" style="left:520.95px;width:34.15px;text-align:center;top:441.30px;font-size:13.33px;color:#111;">12</div>
<div class="t" style="left:555.10px;width:34.15px;text-align:center;top:441.30px;font-size:13.33px;color:#111;">13</div>
<div class="t" style="left:589.25px;width:34.15px;text-align:center;top:441.30px;font-size:13.33px;color:#111;">14</div>
<div class="t" style="left:623.40px;width:34.15px;text-align:center;top:441.30px;font-size:13.33px;color:#111;">15</div>
<div class="t" style="left:486.80px;width:34.15px;text-align:center;top:456.30px;font-size:13.33px;color:#111;">18</div>
<div class="t" style="left:520.95px;width:34.15px;text-align:center;top:456.30px;font-size:13.33px;color:#111;">19</div>
<div class="t" style="left:555.10px;width:34.15px;text-align:center;top:456.30px;font-size:13.33px;color:#111;">20</div>
<div class="t" style="left:589.25px;width:34.15px;text-align:center;top:456.30px;font-size:13.33px;color:#111;">21</div>
<div class="t" style="left:623.40px;width:34.15px;text-align:center;top:456.30px;font-size:13.33px;color:#111;">22</div>
<div class="r" style="left:486.30px;top:462.00px;width:35.15px;height:16.00px;background:#FCE5CD;outline:1px solid #3a3a3a;outline-offset:-1px;"></div>
<div class="t" style="left:486.80px;width:34.15px;text-align:center;top:471.30px;font-size:13.33px;color:#111;">25</div>
<div class="t" style="left:520.95px;width:34.15px;text-align:center;top:471.30px;font-size:13.33px;color:#111;">26</div>
<div class="t" style="left:555.10px;width:34.15px;text-align:center;top:471.30px;font-size:13.33px;color:#111;">27</div>
<div class="t" style="left:589.25px;width:34.15px;text-align:center;top:471.30px;font-size:13.33px;color:#111;">28</div>
<div class="t" style="left:623.40px;width:34.15px;text-align:center;top:471.30px;font-size:13.33px;color:#111;">29</div>
<div class="t" style="left:658.02px;width:40px;text-align:center;top:470.26px;font-size:9.6px;font-weight:700;color:#000;">20</div>
<div class="t" style="left:413.20px;top:485.90px;font-size:13.33px;font-weight:700;color:#000;">June</div>
<div class="t" style="left:486.80px;width:34.15px;text-align:center;top:486.30px;font-size:13.33px;color:#111;">1</div>
<div class="t" style="left:520.95px;width:34.15px;text-align:center;top:486.30px;font-size:13.33px;color:#111;">2</div>
<div class="t" style="left:555.10px;width:34.15px;text-align:center;top:486.30px;font-size:13.33px;color:#111;">3</div>
<div class="t" style="left:589.25px;width:34.15px;text-align:center;top:486.30px;font-size:13.33px;color:#111;">4</div>
<div class="t" style="left:623.40px;width:34.15px;text-align:center;top:486.30px;font-size:13.33px;color:#111;">5</div>
<div class="t" style="left:486.80px;width:34.15px;text-align:center;top:501.30px;font-size:13.33px;color:#111;">8</div>
<div class="t" style="left:520.95px;width:34.15px;text-align:center;top:501.30px;font-size:13.33px;color:#111;">9</div>
<div class="r" style="left:554.60px;top:492.00px;width:35.15px;height:16.00px;background:#E6B8AF;outline:1px solid #3a3a3a;outline-offset:-1px;"></div>
<div class="t" style="left:555.10px;width:34.15px;text-align:center;top:501.30px;font-size:13.33px;color:#111;">10</div>
<div class="t" style="left:589.25px;width:34.15px;text-align:center;top:501.30px;font-size:13.33px;color:#111;">11</div>
<div class="r" style="left:622.50px;top:491.50px;width:35.95px;height:17.00px;background:#D8FBCC;outline:2px solid #000;outline-offset:-2px;"></div>
<div class="t" style="left:623.40px;width:34.15px;text-align:center;top:501.30px;font-size:13.33px;color:#111;">12</div>
<div class="t" style="left:486.80px;width:34.15px;text-align:center;top:516.30px;font-size:13.33px;color:#111;">15</div>
<div class="t" style="left:520.95px;width:34.15px;text-align:center;top:516.30px;font-size:13.33px;color:#111;">16</div>
<div class="t" style="left:555.10px;width:34.15px;text-align:center;top:516.30px;font-size:13.33px;color:#111;">17</div>
<div class="t" style="left:589.25px;width:34.15px;text-align:center;top:516.30px;font-size:13.33px;color:#111;">18</div>
<div class="r" style="left:622.90px;top:507.00px;width:35.15px;height:16.00px;background:#FCE5CD;outline:1px solid #3a3a3a;outline-offset:-1px;"></div>
<div class="t" style="left:623.40px;width:34.15px;text-align:center;top:516.30px;font-size:13.33px;color:#111;">19</div>
<div class="t" style="left:486.80px;width:34.15px;text-align:center;top:531.30px;font-size:13.33px;color:#111;">22</div>
<div class="t" style="left:520.95px;width:34.15px;text-align:center;top:531.30px;font-size:13.33px;color:#111;">23</div>
<div class="t" style="left:555.10px;width:34.15px;text-align:center;top:531.30px;font-size:13.33px;color:#111;">24</div>
<div class="t" style="left:589.25px;width:34.15px;text-align:center;top:531.30px;font-size:13.33px;color:#111;">25</div>
<div class="t" style="left:623.40px;width:34.15px;text-align:center;top:531.30px;font-size:13.33px;color:#111;">26</div>
<div class="t" style="left:486.80px;width:34.15px;text-align:center;top:546.30px;font-size:13.33px;color:#111;">29</div>
<div class="t" style="left:520.95px;width:34.15px;text-align:center;top:546.30px;font-size:13.33px;color:#111;">30</div>
<div class="t" style="left:658.02px;width:40px;text-align:center;top:545.26px;font-size:9.6px;font-weight:700;color:#000;">10</div>
<div class="r" style="left:409.00px;top:101.00px;width:290.00px;height:2.00px;background:#000"></div>
<div class="r" style="left:409.00px;top:176.00px;width:290.00px;height:2.00px;background:#000"></div>
<div class="r" style="left:409.00px;top:251.00px;width:290.00px;height:2.00px;background:#000"></div>
<div class="r" style="left:409.00px;top:326.00px;width:290.00px;height:2.00px;background:#000"></div>
<div class="r" style="left:409.00px;top:401.00px;width:290.00px;height:2.00px;background:#000"></div>
<div class="r" style="left:409.00px;top:476.00px;width:290.00px;height:2.00px;background:#000"></div>
<div class="r" style="left:409.00px;top:551.00px;width:290.00px;height:2.00px;background:#000"></div>
<div class="r" style="left:409.00px;top:101.00px;width:2.00px;height:452.00px;background:#000"></div>
<div class="r" style="left:697.00px;top:101.00px;width:2.00px;height:452.00px;background:#000"></div>
<div class="t" style="left:586.00px;top:561.00px;font-size:13.33px;font-weight:700;color:#000;">Total days =</div>
<div class="t" style="right:80.50px;text-align:right;top:561.00px;font-size:13.33px;font-weight:700;color:#000;">182</div>
<div class="r" style="left:69.00px;top:581.00px;width:300.00px;height:19.00px;background:#D9D2E9;outline:2px solid #000;outline-offset:-2px;"></div>
<div class="t" style="left:69.00px;width:300px;text-align:center;top:589.90px;font-size:13.33px;font-weight:700;color:#000;">New Staff Orientation</div>
<div class="t" style="left:73.50px;top:608.70px;font-size:13.33px;color:#111;">(School not in session) August 18, 19, 20</div>
<div class="r" style="left:69.00px;top:616.00px;width:300.00px;height:19.00px;background:#CFE2F3;outline:2px solid #000;outline-offset:-2px;"></div>
<div class="t" style="left:69.00px;width:300px;text-align:center;top:624.90px;font-size:13.33px;font-weight:700;color:#000;">Professional Development</div>
<div class="t" style="left:73.50px;top:643.60px;font-size:13.33px;color:#111;">(School not in session) August 21, 22, 25, and 26</div>
<div class="t" style="left:73.50px;top:660.20px;font-size:13.33px;color:#111;">(School not in session) November 4</div>
<div class="r" style="left:69.00px;top:668.00px;width:300.00px;height:19.00px;outline:2px solid #000;outline-offset:-2px;"></div>
<div class="t" style="left:69.00px;width:300px;text-align:center;top:677.20px;font-size:13.33px;font-weight:700;color:#000;">First Day of School</div>
<div class="t" style="left:73.50px;top:695.30px;font-size:13.33px;color:#111;">Grades K-4, 5, 7, and 9</div>
<div class="t" style="right:402.80px;text-align:right;top:695.30px;font-size:13.33px;color:#111;">August 27</div>
<div class="t" style="left:73.50px;top:711.90px;font-size:13.33px;color:#111;">Grades 6, 8, and 10-12</div>
<div class="t" style="right:402.80px;text-align:right;top:711.90px;font-size:13.33px;color:#111;">August 28</div>
<div class="t" style="left:73.50px;top:728.60px;font-size:13.33px;color:#111;">Bentley and MRA - all Grades</div>
<div class="t" style="right:402.80px;text-align:right;top:728.60px;font-size:13.33px;color:#111;">August 28</div>
<div class="t" style="left:73.50px;top:745.30px;font-size:13.33px;color:#111;">Integrated PreSchool</div>
<div class="t" style="right:402.80px;text-align:right;top:745.30px;font-size:13.33px;color:#111;">September 2</div>
<div class="t" style="left:73.50px;top:761.90px;font-size:13.33px;color:#111;">Head Start</div>
<div class="t" style="right:402.80px;text-align:right;top:761.90px;font-size:13.33px;color:#111;">September 2</div>
<div class="r" style="left:69.00px;top:769.00px;width:300.00px;height:19.00px;background:#EAD1DC;outline:2px solid #000;outline-offset:-2px;"></div>
<div class="t" style="left:69.00px;width:300px;text-align:center;top:778.60px;font-size:13.33px;font-weight:700;color:#000;">Parent Conferences</div>
<div class="t" style="left:73.50px;top:796.90px;font-size:13.33px;font-weight:700;color:#000;">Integrated PreSchool, Head Start, Grades K-4 -</div>
<div class="t" style="left:73.50px;top:813.60px;font-size:13.33px;color:#111;">December 3, 10, and 17; March 11, 18, and 25</div>
<div class="t" style="left:73.50px;top:830.30px;font-size:13.33px;color:#111;"><b style="color:#000">Grades 5-8 &amp; 9-12</b> - November 5 and 12;</div>
<div class="t" style="left:90.50px;top:846.90px;font-size:13.33px;color:#111;">March 25 and April 1</div>
<div class="r" style="left:69.00px;top:855.00px;width:300.00px;height:18.50px;background:#E6B8AF;outline:2px solid #000;outline-offset:-2px;"></div>
<div class="t" style="left:69.00px;width:300px;text-align:center;top:863.90px;font-size:13.33px;font-weight:700;color:#000;">Graduation</div>
<div class="t" style="left:73.50px;top:881.90px;font-size:13.33px;color:#111;">High School Graduation Date</div>
<div class="t" style="right:402.80px;text-align:right;top:881.90px;font-size:13.33px;color:#111;">June 10</div>
<div class="t" style="left:84.00px;top:899.30px;font-size:13.33px;color:#111;">Rain Date for Graduation</div>
<div class="t" style="right:402.80px;text-align:right;top:899.30px;font-size:13.33px;color:#111;">June 11</div>
<div class="r" style="left:409.00px;top:581.00px;width:290.00px;height:19.00px;background:#FCE5CD;outline:2px solid #000;outline-offset:-2px;"></div>
<div class="t" style="left:409.00px;width:290px;text-align:center;top:589.90px;font-size:13.33px;font-weight:700;color:#000;">Holiday/Vacation Period</div>
<div class="t" style="left:413.50px;top:609.70px;font-size:13.33px;color:#111;">July 4</div>
<div class="t" style="left:558.00px;top:609.70px;font-size:13.33px;color:#111;">Independence Day</div>
<div class="t" style="left:413.50px;top:626.70px;font-size:13.33px;color:#111;">September 1</div>
<div class="t" style="left:558.00px;top:626.70px;font-size:13.33px;color:#111;">Labor Day</div>
<div class="t" style="left:413.50px;top:643.60px;font-size:13.33px;color:#111;">October 13</div>
<div class="t" style="left:558.00px;top:643.60px;font-size:13.33px;color:#111;">Indigenous Peoples Day</div>
<div class="t" style="left:413.50px;top:660.70px;font-size:13.33px;color:#111;">November 11</div>
<div class="t" style="left:558.00px;top:660.70px;font-size:13.33px;color:#111;">Veterans Day</div>
<div class="t" style="left:413.50px;top:678.00px;font-size:13.33px;color:#111;">November 27-28</div>
<div class="t" style="left:558.00px;top:678.00px;font-size:13.33px;color:#111;">Thanksgiving Recess</div>
<div class="t" style="left:413.50px;top:695.00px;font-size:13.33px;color:#111;">December 24 -</div>
<div class="t" style="left:558.00px;top:695.00px;font-size:13.33px;color:#111;">Winter Vacation Period</div>
<div class="t" style="left:413.50px;top:711.80px;font-size:13.33px;color:#111;">&nbsp;&nbsp;&nbsp;January 2</div>
<div class="t" style="left:413.50px;top:728.80px;font-size:13.33px;color:#111;">January 6</div>
<div class="t" style="left:558.00px;top:728.80px;font-size:13.33px;color:#111;">Three Kings Day</div>
<div class="t" style="left:413.50px;top:745.50px;font-size:13.33px;color:#111;">January 19</div>
<div class="t" style="left:558.00px;top:745.50px;font-size:13.33px;color:#111;">Martin Luther King, Jr.</div>
<div class="t" style="left:413.50px;top:763.00px;font-size:13.33px;color:#111;">February 16-17</div>
<div class="t" style="left:558.00px;top:763.00px;font-size:13.33px;color:#111;">Presidents' Day Recess</div>
<div class="t" style="left:413.50px;top:780.60px;font-size:13.33px;color:#111;">March 20</div>
<div class="t" style="left:558.00px;top:780.60px;font-size:13.33px;color:#111;">Eid al-Fitr</div>
<div class="t" style="left:413.50px;top:797.10px;font-size:13.33px;color:#111;">April 3</div>
<div class="t" style="left:558.00px;top:797.10px;font-size:13.33px;color:#111;">Good Friday</div>
<div class="t" style="left:413.50px;top:813.80px;font-size:13.33px;color:#111;">April 13-17</div>
<div class="t" style="left:558.00px;top:813.80px;font-size:13.33px;color:#111;">Spring Vacation Period</div>
<div class="t" style="left:413.50px;top:830.80px;font-size:13.33px;color:#111;">May 25</div>
<div class="t" style="left:558.00px;top:830.80px;font-size:13.33px;color:#111;">Memorial Day</div>
<div class="t" style="left:413.50px;top:847.90px;font-size:13.33px;color:#111;">June 19</div>
<div class="t" style="left:558.00px;top:847.90px;font-size:13.33px;color:#111;">Juneteenth</div>
<div class="r" style="left:409.00px;top:872.00px;width:290.00px;height:35.50px;background:#D8FBCC;outline:2px solid #000;outline-offset:-2px;"></div>
<div class="t" style="left:409.00px;width:290px;text-align:center;top:882.00px;font-size:13.33px;font-weight:700;color:#000;">Abbreviated Day for Students and Staff</div>
<div class="t" style="left:409.00px;width:290px;text-align:center;top:898.00px;font-size:13.33px;font-weight:700;color:#000;">(Emergency Dismissal Schedule)</div>
<div class="t" style="left:413.80px;top:915.90px;font-size:13.33px;color:#111;">November 26, December 23, and June 12 (or the last</div>
<div class="t" style="left:424.10px;top:931.50px;font-size:13.33px;color:#111;">day of school)</div>
</body></html>
